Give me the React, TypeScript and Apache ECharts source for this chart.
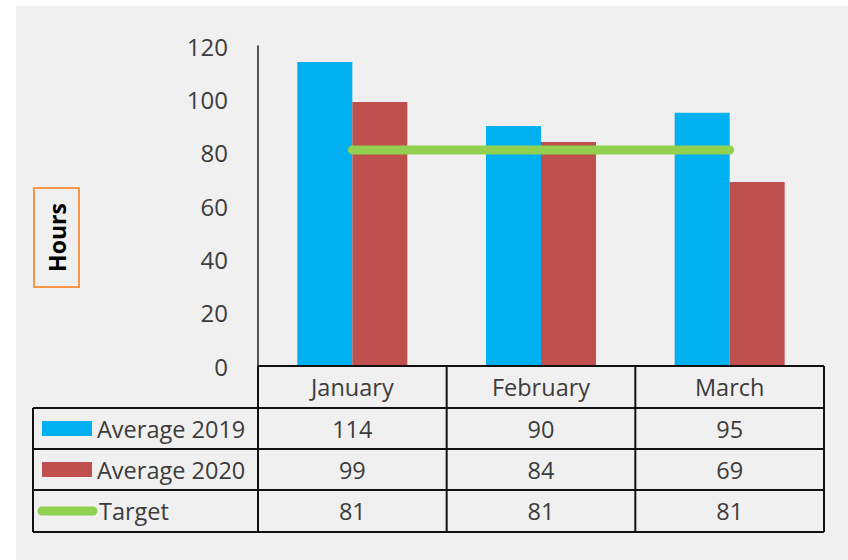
import React, { useEffect, useRef } from "react";
import * as echarts from "echarts";

const categories = ["January", "February", "March"];
const seriesNames = ["Average 2019", "Average 2020", "Target"];
const avg2019 = [114, 90, 95];
const avg2020 = [99, 84, 69];
const target = [81, 81, 81];
const yAxisName = "Hours";

const W = 848;
const H = 560;
const GRID_LEFT = 258;
const GRID_RIGHT_X = 824;
const GRID_TOP = 46;
const AXIS_Y = 366;
const ROWS = [366, 408, 449, 490, 532];
const TABLE_LEFT = 33;
const FONT = '"Open Sans", sans-serif';
const TXT = "#3c3c3c";
const COLORS = ["#00B0F0", "#C0504D", "#92D050"];

export default function App() {
  const ref = useRef<HTMLDivElement>(null);
  useEffect(() => {
    if (!ref.current) return;
    const chart = echarts.init(ref.current, undefined, { renderer: "svg" });
    const catW = (GRID_RIGHT_X - GRID_LEFT) / categories.length;
    const colX = categories.map((_, i) => GRID_LEFT + i * catW);
    const graphics: any[] = [];
    graphics.push({
      type: "rect",
      shape: { x: 16, y: 6, width: W - 16, height: H - 6 },
      style: { fill: "#F0F0F0" },
      z: -10,
      silent: true,
    });
    const line = (x1: number, y1: number, x2: number, y2: number) => ({
      type: "line",
      shape: { x1, y1, x2, y2 },
      style: { stroke: "#111", lineWidth: 2 },
      z: 5,
      silent: true,
    });
    graphics.push(line(GRID_LEFT, ROWS[0], GRID_RIGHT_X, ROWS[0]));
    for (let r = 1; r < ROWS.length; r++) graphics.push(line(TABLE_LEFT, ROWS[r], GRID_RIGHT_X, ROWS[r]));
    graphics.push(line(TABLE_LEFT, ROWS[1], TABLE_LEFT, ROWS[ROWS.length - 1]));
    [...colX, GRID_RIGHT_X].forEach((x) => graphics.push(line(x, ROWS[0], x, ROWS[ROWS.length - 1])));
    const cellText = (text: string, x: number, y: number, align = "center") => ({
      type: "text",
      x,
      y,
      z: 6,
      silent: true,
      style: {
        text,
        fill: TXT,
        font: `23.5px ${FONT}`,
        align,
        verticalAlign: "middle",
        textAlign: align,
        textVerticalAlign: "middle",
      },
    });
    categories.forEach((c, i) => graphics.push(cellText(c, colX[i] + catW / 2, (ROWS[0] + ROWS[1]) / 2)));
    const rowsData = [avg2019, avg2020, target];
    rowsData.forEach((arr, r) => {
      const cy = (ROWS[r + 1] + ROWS[r + 2]) / 2;
      arr.forEach((v, i) => graphics.push(cellText(String(v), colX[i] + catW / 2, cy)));
      graphics.push(cellText(seriesNames[r], r === 2 ? 99 : 97, cy, "left"));
      if (r < 2) {
        graphics.push({
          type: "rect",
          shape: { x: 42, y: cy - 7.5, width: 50, height: 15 },
          style: { fill: COLORS[r] },
          z: 6,
          silent: true,
        });
      } else {
        graphics.push({
          type: "line",
          shape: { x1: 42, y1: cy, x2: 93, y2: cy },
          style: { stroke: COLORS[2], lineWidth: 9, lineCap: "round" },
          z: 6,
          silent: true,
        });
      }
    });
    graphics.push({
      type: "rect",
      shape: { x: 34, y: 188, width: 45, height: 99 },
      style: { fill: "none", stroke: "#F79646", lineWidth: 2 },
      z: 6,
      silent: true,
    });
    graphics.push({
      type: "text",
      x: 57,
      y: 237.5,
      rotation: Math.PI / 2,
      z: 6,
      silent: true,
      style: {
        text: yAxisName,
        fill: "#000",
        font: `bold 23px ${FONT}`,
        align: "center",
        verticalAlign: "middle",
        textAlign: "center",
        textVerticalAlign: "middle",
      },
    });

    chart.setOption({
      animation: false,
      backgroundColor: "#ffffff",
      grid: {
        left: GRID_LEFT,
        right: W - GRID_RIGHT_X,
        top: GRID_TOP,
        bottom: H - AXIS_Y,
        containLabel: false,
      },
      xAxis: {
        type: "category",
        data: categories,
        axisLine: { show: false },
        axisTick: { show: false },
        axisLabel: { show: false },
      },
      yAxis: {
        type: "value",
        min: 0,
        max: 120,
        interval: 20,
        axisLine: { show: true, lineStyle: { color: "#222", width: 1.5 } },
        axisTick: { show: false },
        splitLine: { show: false },
        axisLabel: { color: TXT, fontSize: 24, fontFamily: FONT, margin: 30 },
      },
      series: [
        {
          name: seriesNames[0],
          type: "bar",
          data: avg2019,
          barWidth: 55,
          barGap: "0%",
          itemStyle: { color: COLORS[0] },
        },
        {
          name: seriesNames[1],
          type: "bar",
          data: avg2020,
          barWidth: 55,
          barGap: "0%",
          itemStyle: { color: COLORS[1] },
        },
        {
          name: seriesNames[2],
          type: "line",
          data: target,
          symbol: "none",
          z: 4,
          lineStyle: { color: COLORS[2], width: 9, cap: "round" },
        },
      ],
      graphic: graphics,
    });
    return () => chart.dispose();
  }, []);
  return (
    <div
      ref={ref}
      style={{ position: "fixed", left: 0, top: 0, width: W, height: H }}
    />
  );
}
